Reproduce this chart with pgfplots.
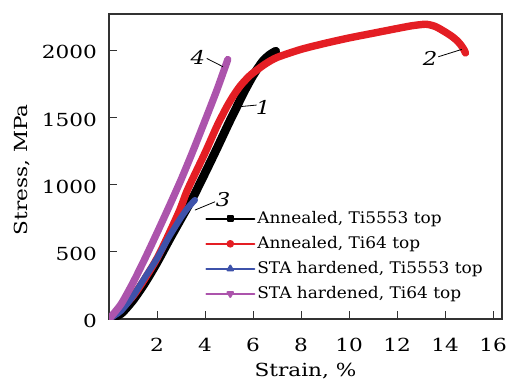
\documentclass[border=0pt]{standalone}
\usepackage{pgfplots}
\pgfplotsset{compat=1.18}
\usepackage{fontspec}
\setmainfont[FakeStretch=1.2]{DejaVu Serif}
\newfontfamily\legfont[FakeStretch=1.06]{DejaVu Serif}
\definecolor{cred}{RGB}{228,30,36}
\definecolor{cblue}{RGB}{62,82,170}
\definecolor{cpurple}{RGB}{172,84,172}
\definecolor{axgray}{RGB}{50,50,50}
\begin{document}
\begin{tikzpicture}
\begin{axis}[
  scale only axis, width=196.5pt, height=152.5pt,
  xmin=0, xmax=16.375, ymin=0, ymax=2268,
  xtick={2,4,...,16}, ytick={0,500,...,2000},
  tick pos=left, tick align=inside, major tick length=4pt,
  axis line style={axgray, line width=0.6pt},
  tick style={axgray, line width=0.5pt},
  /pgf/number format/assume math mode=true,
  /pgf/number format/1000 sep={},
  ticklabel style={font=\fontsize{9}{10}\selectfont},
  xticklabel style={yshift=-6pt},
  yticklabel style={xshift=-2.5pt, yshift=-1.2pt},
  xlabel={Strain, \%}, ylabel={Stress, MPa},
  label style={font=\fontsize{9}{10}\selectfont},
  xlabel style={at={(axis description cs:0.5,-0.1705)}, anchor=center},
  ylabel style={at={(axis description cs:-0.221,0.489)}, anchor=center},
  legend image code/.code={\draw[mark repeat=2,mark phase=2,#1] plot coordinates {(0pt,0pt) (12pt,0pt) (24pt,0pt)};},
  legend style={at={(0.244,0.366)}, anchor=north west, draw=none, fill=none, inner sep=0pt,
    font=\legfont\fontsize{8}{9}\selectfont, row sep=1.5pt,
    nodes={inner sep=1pt, text height=7pt, text depth=2pt}},
  legend cell align=left,
  every axis plot/.append style={line join=round, line cap=round},
]
\addplot[black, line width=4.3pt, smooth, tension=0.4, forget plot] coordinates {
(0,0) (0.5,40) (1.0,140) (1.5,270) (2.0,420) (2.5,585) (3.0,745) (3.5,905)
(4.0,1085) (4.5,1270) (5.0,1460) (5.33,1580) (5.6,1680) (6.0,1810) (6.4,1915) (6.7,1965) (6.95,1992)};
\addplot[cred, line width=3.7pt, smooth, tension=0.4, forget plot] coordinates {
(0,0) (1.0,170) (2.0,450) (2.9,790) (3.27,960) (4.0,1235) (4.5,1435) (4.9,1575)
(5.2,1665) (5.5,1740) (5.9,1815) (6.5,1895) (7.0,1945) (8.0,2005) (9,2050) (10,2090)
(11,2125) (12,2160) (12.6,2180) (13.2,2192) (13.6,2175) (14.0,2135) (14.3,2100)
(14.5,2070) (14.65,2040) (14.8,2000) (14.85,1978)};
\addplot[cblue, line width=3.1pt, smooth, tension=0.4, forget plot] coordinates {
(0,0) (0.5,60) (1.0,170) (1.5,310) (2.0,450) (2.5,610) (3.0,755) (3.3,830) (3.58,885)};
\addplot[cpurple, line width=3.6pt, smooth, tension=0.4, forget plot] coordinates {
(0,0) (0.5,110) (1.0,270) (1.5,450) (2.0,640) (2.5,835) (3.0,1035) (3.5,1250)
(4.0,1475) (4.5,1705) (4.95,1930)};
\addlegendimage{black, line width=1pt, mark=square*, mark size=1.3pt}
\addlegendentry{Annealed, Ti5553 top}
\addlegendimage{cred, line width=1pt, mark=*, mark size=1.4pt}
\addlegendentry{Annealed, Ti64 top}
\addlegendimage{cblue, line width=1pt, mark=triangle*, mark size=1.6pt}
\addlegendentry{STA hardened, Ti5553 top}
\addlegendimage{cpurple, line width=1pt, mark=triangle*, mark options={rotate=180}, mark size=1.6pt}
\addlegendentry{STA hardened, Ti64 top}
\draw[line width=0.4pt] (axis cs:4.07,1938) -- (axis cs:4.75,1876);
\draw[line width=0.4pt] (axis cs:5.39,1578) -- (axis cs:6.15,1591);
\draw[line width=0.4pt] (axis cs:13.72,1950) -- (axis cs:14.7,2005);
\draw[line width=0.4pt] (axis cs:3.58,810) -- (axis cs:4.42,872);
\node[font=\fontsize{9.5}{10}\selectfont\itshape] at (axis cs:3.7,1948) {4};
\node[font=\fontsize{9.5}{10}\selectfont\itshape] at (axis cs:6.42,1576) {1};
\node[font=\fontsize{9.5}{10}\selectfont\itshape] at (axis cs:13.375,1940) {2};
\node[font=\fontsize{9.5}{10}\selectfont\itshape] at (axis cs:4.75,885) {3};
\end{axis}
\pgfresetboundingbox
\path (-54.5pt,-31.5pt) rectangle (198.5pt,159.5pt);
\end{tikzpicture}
\end{document}
